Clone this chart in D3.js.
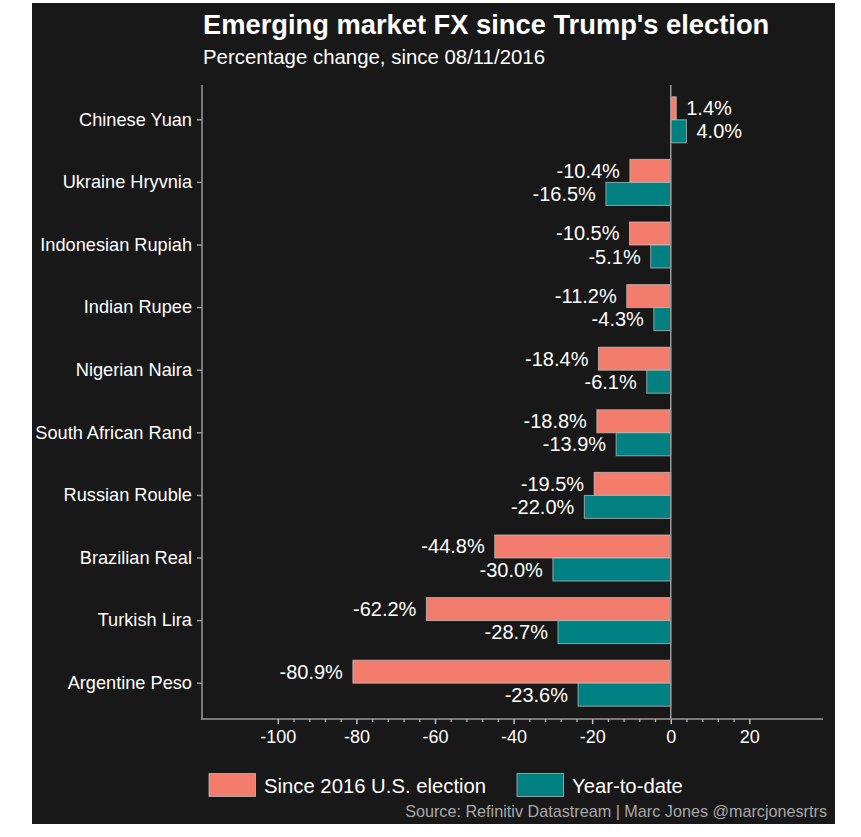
<!DOCTYPE html>
<html>
<head>
<meta charset="utf-8">
<script src="https://cdn.jsdelivr.net/npm/d3@7"></script>
<style>
  html, body { margin: 0; padding: 0; background: #ffffff; }
  svg { display: block; }
  text { font-family: "Liberation Sans", Arial, sans-serif; }
</style>
</head>
<body>
<svg id="chart" width="861" height="837"></svg>
<script>
const categories = ["Chinese Yuan", "Ukraine Hryvnia", "Indonesian Rupiah", "Indian Rupee",
  "Nigerian Naira", "South African Rand", "Russian Rouble", "Brazilian Real",
  "Turkish Lira", "Argentine Peso"];
const seriesNames = ["Since 2016 U.S. election", "Year-to-date"];
const sinceElection = [1.4, -10.4, -10.5, -11.2, -18.4, -18.8, -19.5, -44.8, -62.2, -80.9];
const yearToDate = [4.0, -16.5, -5.1, -4.3, -6.1, -13.9, -22.0, -30.0, -28.7, -23.6];
const majorTicks = [-100, -80, -60, -40, -20, 0, 20];
const minorTicks = [-96, -92, -88, -84, -76, -72, -68, -64, -56, -52, -48, -44, -36, -32, -28, -24,
  -16, -12, -8, -4, 4, 8, 12, 16];
const titleText = "Emerging market FX since Trump's election";
const subtitleText = "Percentage change, since 08/11/2016";
const sourceText = "Source: Refinitiv Datastream | Marc Jones @marcjonesrtrs";
const colors = ["#f47c6c", "#008080"];

const svg = d3.select("#chart");

// dark panel
svg.append("rect").attr("x", 32).attr("y", 3).attr("width", 803).attr("height", 821)
  .attr("fill", "#181818");

const x = d3.scaleLinear().domain([-119.3, 38.75]).range([202, 823]);
const y = d3.scaleBand().domain(categories).range([88.5, 714.5]).paddingInner(0).paddingOuter(0);
const ySub = d3.scaleBand().domain(seriesNames).range([0, y.bandwidth()])
  .paddingInner(0).paddingOuter(0.36);

const rows = categories.map((c, i) => ({cat: c, vals: [sinceElection[i], yearToDate[i]]}));

// title
svg.append("text").attr("x", 203).attr("y", 34).attr("fill", "#ffffff")
  .attr("font-size", 27.3).attr("font-weight", "bold").text(titleText);
svg.append("text").attr("x", 203).attr("y", 64).attr("fill", "#ffffff")
  .attr("font-size", 20.4).text(subtitleText);

// bars
const g = svg.append("g");
rows.forEach(r => {
  r.vals.forEach((v, j) => {
    const yy = y(r.cat) + ySub(seriesNames[j]);
    g.append("rect")
      .attr("x", x(Math.min(0, v)))
      .attr("y", yy)
      .attr("width", Math.abs(x(v) - x(0)))
      .attr("height", ySub.bandwidth())
      .attr("fill", colors[j])
      .attr("stroke", "#c8c8c8")
      .attr("stroke-opacity", 0.7)
      .attr("stroke-width", 1);
    g.append("text")
      .attr("x", v < 0 ? x(v) - 10 : x(v) + 10)
      .attr("y", yy + ySub.bandwidth() / 2)
      .attr("dy", "0.35em")
      .attr("text-anchor", v < 0 ? "end" : "start")
      .attr("fill", "#ffffff")
      .attr("font-size", 20)
      .text(v.toFixed(1) + "%");
  });
});

// zero line
svg.append("line").attr("x1", x(0)).attr("x2", x(0)).attr("y1", 85).attr("y2", 719)
  .attr("stroke", "#9a9a9a").attr("stroke-width", 1.5);

// y axis
const yAxisG = svg.append("g").attr("transform", "translate(202,0)")
  .call(d3.axisLeft(y).tickSize(5).tickPadding(5));
yAxisG.select(".domain").remove();
yAxisG.selectAll(".tick line").attr("stroke", "#9a9a9a").attr("stroke-width", 1.5);
yAxisG.selectAll(".tick text").attr("fill", "#ffffff").attr("font-size", 18.2)
  .style("font-family", "'Liberation Sans', Arial, sans-serif");
svg.append("line").attr("x1", 202).attr("x2", 202).attr("y1", 85).attr("y2", 719.75)
  .attr("stroke", "#9a9a9a").attr("stroke-width", 1.5);

// x axis
const xAxisG = svg.append("g").attr("transform", "translate(0,719)")
  .call(d3.axisBottom(x).tickValues(majorTicks).tickSize(5).tickPadding(6)
    .tickFormat(d => String(d)));
xAxisG.select(".domain").remove();
xAxisG.selectAll(".tick line").attr("stroke", "#bdbdbd").attr("stroke-width", 1.5);
xAxisG.selectAll(".tick text").attr("fill", "#ffffff").attr("font-size", 18)
  .style("font-family", "'Liberation Sans', Arial, sans-serif");
const xMinorG = svg.append("g").attr("transform", "translate(0,719)")
  .call(d3.axisBottom(x).tickValues(minorTicks).tickSize(3).tickFormat(""));
xMinorG.select(".domain").remove();
xMinorG.selectAll(".tick line").attr("stroke", "#bdbdbd").attr("stroke-width", 1.2);
svg.append("line").attr("x1", 201.25).attr("x2", 823).attr("y1", 719).attr("y2", 719)
  .attr("stroke", "#9a9a9a").attr("stroke-width", 1.5);

// legend
const legendX = [209, 517];
seriesNames.forEach((s, j) => {
  svg.append("rect").attr("x", legendX[j]).attr("y", 773.5).attr("width", 46.5).attr("height", 23)
    .attr("fill", colors[j]).attr("stroke", "#c8c8c8").attr("stroke-opacity", 0.7);
  svg.append("text").attr("x", legendX[j] + 55).attr("y", 793).attr("fill", "#ffffff")
    .attr("font-size", 20.3).text(s);
});

// source
svg.append("text").attr("x", 827).attr("y", 817).attr("text-anchor", "end")
  .attr("fill", "#a8a8a8").attr("font-size", 16.2).text(sourceText);
</script>
</body>
</html>
